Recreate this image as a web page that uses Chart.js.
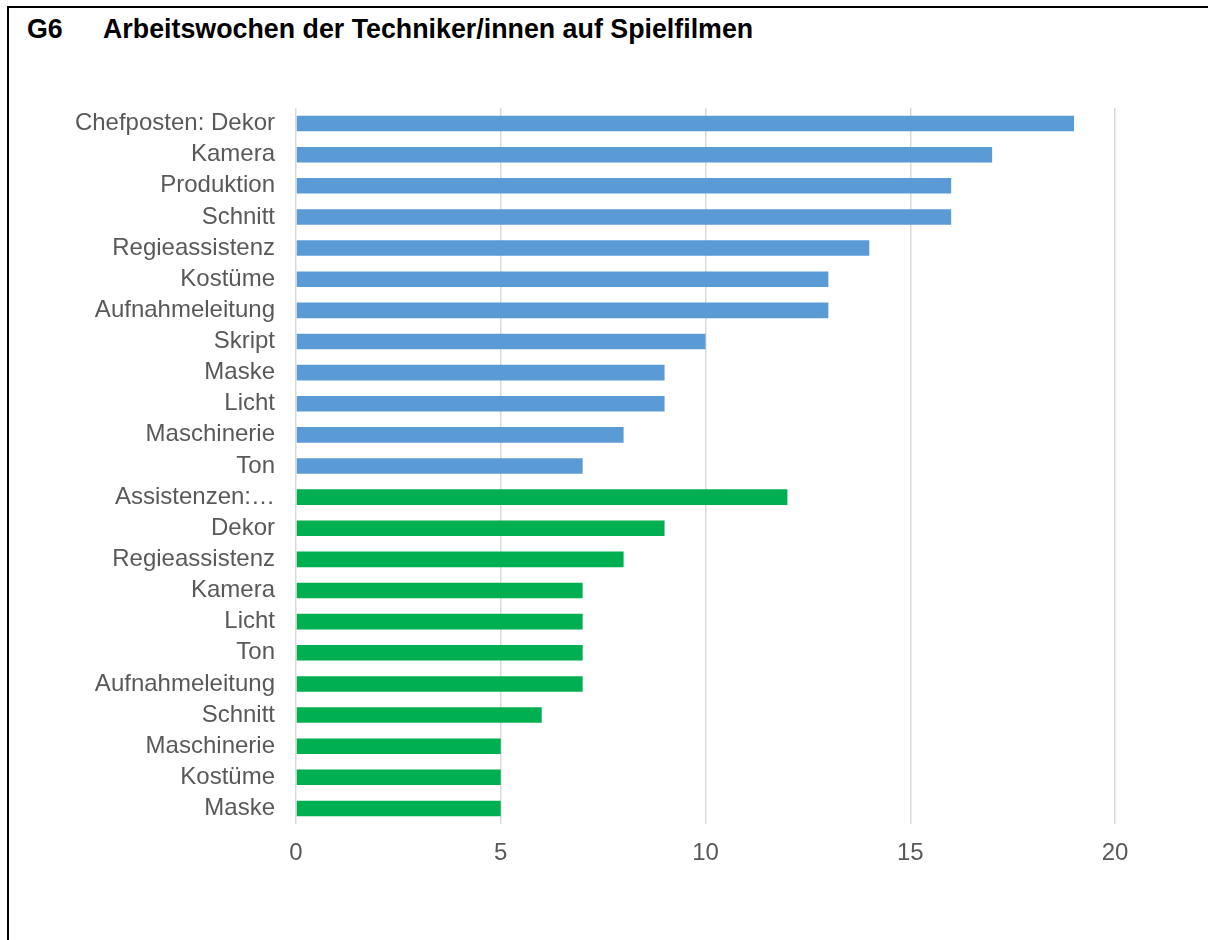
<!DOCTYPE html>
<html>
<head>
<meta charset="utf-8">
<script src="https://cdn.jsdelivr.net/npm/chart.js@4"></script>
<style>
  html, body { margin: 0; padding: 0; background: #fff; }
  #wrap { position: relative; width: 1208px; height: 940px; overflow: hidden; }
  #frame { position: absolute; left: 7px; top: 6px; right: -10px; bottom: -10px; border-top: 2px solid #000; border-left: 2px solid #000; }
  .title { position: absolute; top: 14px; line-height: 27px; font: bold 26.8px "Liberation Sans", Arial, sans-serif; color: #000; white-space: pre; }
  canvas { position: absolute; left: 0; top: 0; }
</style>
</head>
<body>
<div id="wrap">
  <div id="frame"></div>
  <div class="title" style="left:27px">G6</div>
  <div class="title" style="left:103px">Arbeitswochen der Techniker/innen auf Spielfilmen</div>
  <canvas id="c" width="1208" height="940"></canvas>
</div>
<script>
  // Kategorien (oben nach unten)
  const labels = [
    "Chefposten: Dekor", "Kamera", "Produktion", "Schnitt", "Regieassistenz", "Kostüme",
    "Aufnahmeleitung", "Skript", "Maske", "Licht", "Maschinerie", "Ton",
    "Assistenzen:…", "Dekor", "Regieassistenz", "Kamera", "Licht", "Ton",
    "Aufnahmeleitung", "Schnitt", "Maschinerie", "Kostüme", "Maske"
  ];
  const weeks = [19, 17, 16, 16, 14, 13, 13, 10, 9, 9, 8, 7, 12, 9, 8, 7, 7, 7, 7, 6, 5, 5, 5];
  // erste 12 = Chefposten (blau), Rest = Assistenzen (grün)
  const chefCount = 12;
  const BLUE = "#5B9BD5", GREEN = "#00B050";
  const xTicks = [0, 5, 10, 15, 20];

  const colors = weeks.map((v, i) => i < chefCount ? BLUE : GREEN);
  const font = { family: "'Liberation Sans', Arial, sans-serif", size: 24 };

  new Chart(document.getElementById("c"), {
    type: "bar",
    data: {
      labels: labels,
      datasets: [{ data: weeks, backgroundColor: colors, barPercentage: 0.5, categoryPercentage: 1 }]
    },
    options: {
      indexAxis: "y",
      responsive: false,
      animation: false,
      layout: { padding: { left: 0, top: 108, right: 93, bottom: 66 } },
      plugins: { legend: { display: false }, tooltip: { enabled: false } },
      scales: {
        x: {
          min: 0, max: 20,
          afterBuildTicks: (s) => { s.ticks = xTicks.map(v => ({ value: v })); },
          afterFit: (s) => { s.height = 50; },
          grid: { color: "#D9D9D9", lineWidth: 1.5, drawTicks: false },
          border: { display: false },
          ticks: { color: "#595959", font: font, padding: 15 }
        },
        y: {
          afterFit: (s) => { s.width = 296; },
          grid: { display: false, drawTicks: false },
          border: { display: false },
          ticks: { color: "#595959", font: font, padding: 21, autoSkip: false }
        }
      }
    }
  });
</script>
</body>
</html>
